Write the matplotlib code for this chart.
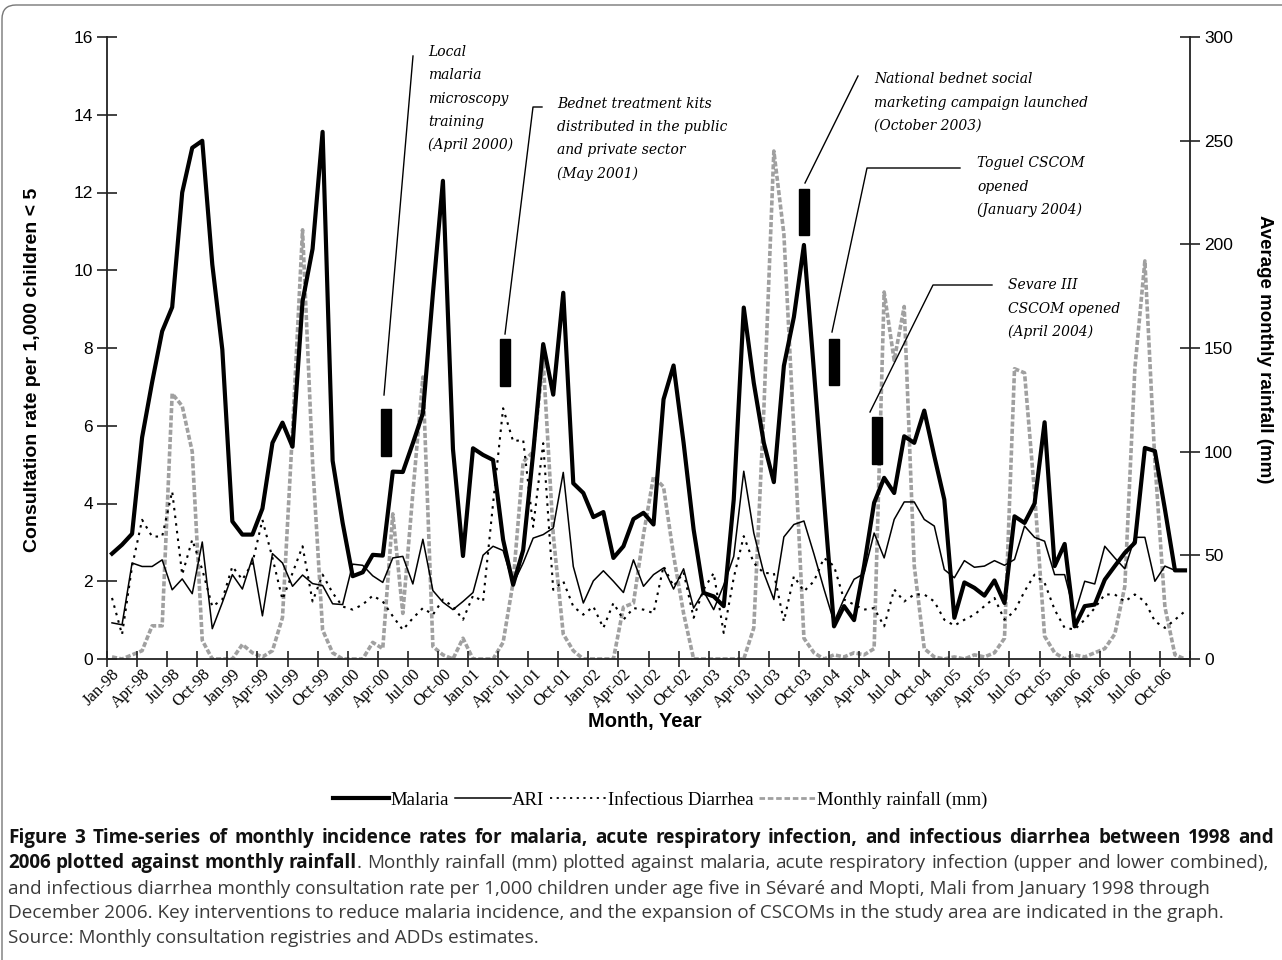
import numpy as np
import matplotlib
matplotlib.use('Agg')
import matplotlib.pyplot as plt
import matplotlib.transforms as mtransforms
from matplotlib.lines import Line2D
from matplotlib.patches import Rectangle, FancyBboxPatch

W, H = 1282, 960

tick_labels = ['Jan-98', 'Apr-98', 'Jul-98', 'Oct-98', 'Jan-99', 'Apr-99', 'Jul-99', 'Oct-99',
               'Jan-00', 'Apr-00', 'Jul-00', 'Oct-00', 'Jan-01', 'Apr-01', 'Jul-01', 'Oct-01',
               'Jan-02', 'Apr-02', 'Jul-02', 'Oct-02', 'Jan-03', 'Apr-03', 'Jul-03', 'Oct-03',
               'Jan-04', 'Apr-04', 'Jul-04', 'Oct-04', 'Jan-05', 'Apr-05', 'Jul-05', 'Oct-05',
               'Jan-06', 'Apr-06', 'Jul-06', 'Oct-06']

# monthly consultation rate per 1,000 children < 5, Jan-98 .. Dec-06
malaria = [2.71, 2.94, 3.22, 5.70, 7.12, 8.43, 9.05, 12.0, 13.15, 13.33, 10.15, 7.96,
           3.54, 3.20, 3.20, 3.87, 5.56, 6.08, 5.46, 9.20, 10.55, 13.56, 5.10, 3.50,
           2.13, 2.23, 2.68, 2.66, 4.82, 4.81, 5.55, 6.32, 9.40, 12.30, 5.40, 2.65,
           5.42, 5.25, 5.12, 3.07, 1.91, 2.80, 5.30, 8.10, 6.80, 9.42, 4.52, 4.27,
           3.65, 3.78, 2.60, 2.90, 3.60, 3.76, 3.46, 6.68, 7.55, 5.56, 3.33, 1.70,
           1.61, 1.36, 4.10, 9.04, 7.10, 5.56, 4.55, 7.54, 8.80, 10.65, 7.40, 4.10,
           0.84, 1.36, 1.00, 2.40, 4.02, 4.66, 4.27, 5.73, 5.56, 6.39, 5.22, 4.10,
           1.06, 1.97, 1.83, 1.63, 2.02, 1.44, 3.67, 3.50, 4.00, 6.09, 2.39, 2.96,
           0.84, 1.36, 1.40, 2.04, 2.39, 2.73, 2.99, 5.43, 5.35, 3.85, 2.28, 2.28]

ari = [0.93, 0.88, 2.47, 2.38, 2.38, 2.55, 1.78, 2.06, 1.68, 3.01, 0.78, 1.45,
       2.17, 1.80, 2.60, 1.11, 2.71, 2.47, 1.87, 2.16, 1.94, 1.89, 1.42, 1.40,
       2.44, 2.41, 2.14, 1.97, 2.60, 2.64, 1.93, 3.08, 1.76, 1.46, 1.27, 1.48,
       1.71, 2.67, 2.90, 2.79, 1.93, 2.47, 3.11, 3.20, 3.37, 4.80, 2.38, 1.44,
       2.01, 2.27, 2.00, 1.71, 2.55, 1.87, 2.17, 2.34, 1.80, 2.32, 1.31, 1.74,
       1.27, 1.90, 2.64, 4.83, 3.24, 2.21, 1.53, 3.14, 3.46, 3.55, 2.70, 1.80,
       0.95, 1.55, 2.05, 2.20, 3.24, 2.60, 3.59, 4.04, 4.04, 3.59, 3.42, 2.30,
       2.09, 2.53, 2.36, 2.39, 2.53, 2.41, 2.56, 3.42, 3.13, 3.03, 2.17, 2.17,
       1.15, 2.00, 1.93, 2.90, 2.60, 2.32, 3.13, 3.13, 2.00, 2.39, 2.28, 2.28]

diarrhea = [1.57, 0.63, 2.38, 3.58, 3.15, 3.15, 4.31, 2.17, 3.07, 2.30, 1.35, 1.53,
            2.38, 2.04, 2.47, 3.58, 2.60, 1.53, 2.21, 2.90, 1.48, 2.17, 1.70, 1.35,
            1.27, 1.40, 1.63, 1.48, 1.10, 0.75, 1.05, 1.31, 1.14, 1.53, 1.35, 1.01,
            1.63, 1.48, 4.00, 6.45, 5.60, 5.64, 3.40, 5.55, 1.78, 2.00, 1.35, 1.14,
            1.35, 0.80, 1.44, 1.01, 1.31, 1.27, 1.18, 2.39, 1.87, 2.23, 1.06, 1.79,
            2.21, 0.67, 2.09, 3.16, 2.47, 2.21, 2.21, 0.97, 2.13, 1.74, 2.00, 2.60,
            2.39, 1.53, 1.40, 1.27, 1.31, 0.84, 1.79, 1.48, 1.66, 1.66, 1.48, 1.01,
            0.86, 1.01, 1.14, 1.36, 1.57, 1.01, 1.23, 1.74, 2.17, 1.96, 1.27, 0.80,
            0.76, 1.01, 1.31, 1.66, 1.66, 1.48, 1.66, 1.48, 0.97, 0.80, 1.01, 1.23]

# average monthly rainfall (mm)
rainfall = [1, 0, 2, 4, 16, 16, 128, 122, 100, 9, 0, 0,
            0, 7, 3, 1, 4, 20, 110, 207, 95, 14, 3, 0,
            0, 0, 8, 5, 70, 22, 80, 136, 6, 2, 0, 10,
            0, 0, 0, 8, 37, 95, 100, 144, 60, 12, 4, 0,
            0, 0, 0, 25, 27, 60, 88, 83, 50, 22, 0, 0,
            0, 0, 0, 0, 15, 120, 245, 205, 110, 10, 3, 0,
            2, 1, 3, 2, 5, 177, 144, 170, 45, 5, 1, 0,
            1, 0, 2, 1, 3, 10, 140, 138, 80, 11, 3, 0,
            2, 1, 3, 5, 12, 35, 140, 192, 95, 25, 2, 0]

# interventions: month index of the marker and its lower edge
event_month = [27.3, 39.2, 69.0, 72.0, 76.3]
event_low = [5.23, 7.03, 10.9, 7.04, 5.02]
event_text = [['Local', 'malaria', 'microscopy', 'training', '(April 2000)'],
              ['Bednet treatment kits', 'distributed in the public', 'and private sector', '(May 2001)'],
              ['National bednet social', 'marketing campaign launched', '(October 2003)'],
              ['Toguel CSCOM', 'opened', '(January 2004)'],
              ['Sevare III', 'CSCOM opened', '(April 2004)']]


def fx(px):
    return px / W


def fy(py):
    return 1 - py / H


plt.rcParams['font.family'] = 'Liberation Sans'
fig = plt.figure(figsize=(W / 100, H / 100), dpi=100)

ax = fig.add_axes([fx(107), fy(659), fx(1190) - fx(107), fy(37) - fy(659)])
ax2 = ax.twinx()
x = np.arange(len(malaria))

ax2.plot(x, rainfall, color='#a0a0a0', lw=2.6, ls=(0, (1.4, 0.6)))
ax2.set_ylim(0, 300)
ax2.set_yticks(range(0, 301, 50))
ax.set_zorder(ax2.get_zorder() + 1)
ax.patch.set_visible(False)

ax.plot(x, diarrhea, color='black', lw=1.5, ls=(0, (1.2, 2.5)))
ax.plot(x, ari, color='black', lw=1.1)
ax.plot(x, malaria, color='black', lw=3.0)

ax.set_xlim(-0.5, 107.5)
ax.set_ylim(0, 16)
ax.set_yticks(range(0, 17, 2))
ax.set_xticks(np.arange(0, 108, 3))
ax.set_xticklabels(tick_labels, rotation=45, ha='right', va='top',
                   rotation_mode='anchor', fontfamily='Liberation Serif', fontsize=12)
shift = mtransforms.ScaledTranslation(5 / 100, 0, fig.dpi_scale_trans)
for lab in ax.get_xticklabels():
    lab.set_transform(lab.get_transform() + shift)
ax.set_xticks(np.arange(-0.5, 108, 3), minor=True)
ax.tick_params(axis='x', which='major', length=0, pad=5)
ax.tick_params(axis='x', which='minor', length=12, direction='inout', width=1.2, color='#222')
ax.tick_params(axis='y', length=14, direction='inout', width=1.2, color='#222', labelsize=12.5, pad=3)
ax2.tick_params(axis='y', length=14, direction='inout', width=1.2, color='#222', labelsize=12.5, pad=3)

for s in ['top', 'right']:
    ax.spines[s].set_visible(False)
for s in ['top', 'left', 'bottom']:
    ax2.spines[s].set_visible(False)
for sp in [ax.spines['left'], ax.spines['bottom'], ax2.spines['right']]:
    sp.set_linewidth(1.3)
    sp.set_color('#222')

# intervention markers
for m, lo in zip(event_month, event_low):
    ax.add_patch(Rectangle((m - 0.52, lo), 1.05, 1.2, color='black', zorder=5))

# leader lines (pixel positions)
leaders = [[(413, 56), (384, 395)],
           [(542, 107), (533, 107), (505, 334)],
           [(858, 76), (805, 183)],
           [(960, 168), (867, 168), (832, 332)],
           [(992, 285), (933, 285), (870, 412)]]
for pts in leaders:
    fig.add_artist(Line2D([fx(p[0]) for p in pts], [fy(p[1]) for p in pts],
                          color='black', lw=1.0, transform=fig.transFigure))

text_pos = [(428, [52, 75, 99, 122, 145]),
            (557, [104, 127, 150, 174]),
            (874, [79, 103, 126]),
            (977, [163, 187, 210]),
            (1008, [285, 309, 332])]
for lines, (tx, ys) in zip(event_text, text_pos):
    for line, ty in zip(lines, ys):
        fig.text(fx(tx), fy(ty), line, fontfamily='DejaVu Serif', style='italic',
                 fontsize=10, va='center', ha='left')

# axis titles
fig.text(fx(33), fy(370), 'Consultation rate per 1,000 children < 5', rotation=90,
         fontweight='bold', fontsize=14, ha='center', va='center')
fig.text(fx(1265), fy(349), 'Average monthly rainfall (mm)', rotation=270,
         fontweight='bold', fontsize=13.5, ha='center', va='center')
fig.text(fx(645), fy(722), 'Month, Year', fontweight='bold', fontsize=14.5,
         ha='center', va='center')

handles = [Line2D([], [], color='black', lw=3.0),
           Line2D([], [], color='black', lw=1.1),
           Line2D([], [], color='black', lw=1.3, ls=(0, (1.2, 2.5))),
           Line2D([], [], color='#a0a0a0', lw=2.0, ls=(0, (2, 1)))]
fig.legend(handles, ['Malaria', 'ARI', 'Infectious Diarrhea', 'Monthly rainfall (mm)'],
           loc='center', bbox_to_anchor=(fx(660), fy(800)), ncol=4, frameon=False,
           prop={'family': 'Liberation Serif', 'size': 13.5}, handlelength=3.0,
           handletextpad=0.08, columnspacing=0.3)

# caption
r = fig.canvas.get_renderer()
cap = {'fontfamily': 'Open Sans', 'va': 'center', 'ha': 'left'}
bold = {'fontweight': 'bold', 'color': '#111', 'fontsize': 13.6}
reg = {'color': '#3a3a3a', 'fontsize': 13.6}


def justified(groups, ty, x0, x1):
    # groups: words, each a list of (text, style) pieces set side by side
    placed = []
    for g in groups:
        pieces = []
        for txt, st in g:
            t = fig.text(0, fy(ty), txt, **cap, **st)
            pieces.append((t, t.get_window_extent(r).width))
        placed.append(pieces)
    total = sum(w for p in placed for _, w in p)
    gap = (x1 - x0 - total) / (len(placed) - 1)
    xc = x0
    for pieces in placed:
        for t, w in pieces:
            t.set_x(xc / W)
            xc += w
        xc += gap


line1 = ('Figure 3 Time-series of monthly incidence rates for malaria, acute respiratory '
         'infection, and infectious diarrhea between 1998 and')
justified([[(w, bold)] for w in line1.split()], 838, 8, 1274)
line2b = '2006 plotted against monthly'.split()
line2r = ('Monthly rainfall (mm) plotted against malaria, acute respiratory infection '
          '(upper and lower combined),').split()
groups2 = [[(w, bold)] for w in line2b] + [[('rainfall', bold), ('.', reg)]] + \
          [[(w, reg)] for w in line2r]
justified(groups2, 863, 8, 1268)

rest = ['and infectious diarrhea monthly consultation rate per 1,000 children under age five '
        'in Sévaré and Mopti, Mali from January 1998 through',
        'December 2006. Key interventions to reduce malaria incidence, and the expansion of '
        'CSCOMs in the study area are indicated in the graph.',
        'Source: Monthly consultation registries and ADDs estimates.']
for line, ty in zip(rest, [889, 913, 938]):
    fig.text(fx(8), fy(ty), line, **cap, **reg)

# outer frame
fig.add_artist(FancyBboxPatch((2, -60), 1400, H - 5 + 60,
                              boxstyle='round,pad=0,rounding_size=14',
                              fill=False, edgecolor='#777', lw=1.0, transform=None))

fig.savefig('out.png', dpi=100)
